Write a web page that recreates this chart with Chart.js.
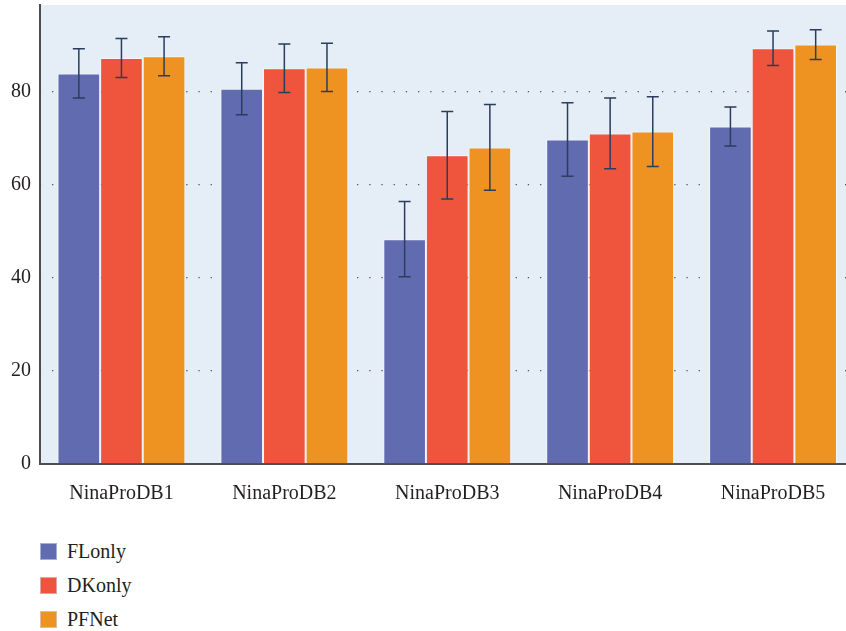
<!DOCTYPE html>
<html>
<head>
<meta charset="utf-8">
<script src="https://cdn.jsdelivr.net/npm/chart.js@4/dist/chart.umd.min.js"></script>
<style>
  html, body { margin: 0; padding: 0; background: #ffffff; overflow: hidden; width: 846px; height: 631px; }
  #wrap { position: absolute; left: 0; top: 0; width: 860px; height: 520px; }
  #legend { position: absolute; left: 40px; top: 534px; font-family: "Liberation Serif", "DejaVu Serif", serif; font-size: 20px; color: #231f20; }
  .item { display: flex; align-items: center; height: 34px; }
  .box { width: 17px; height: 17px; box-shadow: 0 0 0 1px rgba(210,220,240,0.6) inset; margin-right: 10px; }
</style>
</head>
<body>
<div id="wrap"><canvas id="c" width="860" height="520"></canvas></div>
<div id="legend"></div>
<script>
const categories = ["NinaProDB1", "NinaProDB2", "NinaProDB3", "NinaProDB4", "NinaProDB5"];
const seriesNames = ["FLonly", "DKonly", "PFNet"];
const flonly = [83.9, 80.6, 48.3, 69.7, 72.5];
const dkonly = [87.2, 85.0, 66.3, 71.0, 89.3];
const pfnet  = [87.6, 85.2, 68.0, 71.4, 90.1];
const flonlyErr = [5.3, 5.6, 8.1, 7.9, 4.2];
const dkonlyErr = [4.2, 5.2, 9.4, 7.6, 3.7];
const pfnetErr  = [4.2, 5.2, 9.2, 7.5, 3.2];
const yTicks = [0, 20, 40, 60, 80];
const colors = ["#616bb0", "#ef553c", "#ee9322"];

const values = [flonly, dkonly, pfnet];
const errors = [flonlyErr, dkonlyErr, pfnetErr];

const bgPlugin = {
  id: "bg",
  beforeDraw(chart) {
    const a = chart.chartArea, ctx = chart.ctx;
    ctx.save();
    ctx.fillStyle = "#e5edf7";
    ctx.fillRect(a.left, a.top, a.right - a.left, a.bottom - a.top);
    ctx.restore();
  }
};

const errPlugin = {
  id: "errbars",
  afterDatasetsDraw(chart) {
    const ctx = chart.ctx, ys = chart.scales.y;
    ctx.save();
    ctx.strokeStyle = "#2b3d5c";
    ctx.lineWidth = 1.5;
    chart.data.datasets.forEach((ds, di) => {
      const meta = chart.getDatasetMeta(di);
      meta.data.forEach((bar, i) => {
        const v = ds.data[i], e = ds.errors[i];
        const yt = ys.getPixelForValue(v + e), yb = ys.getPixelForValue(v - e);
        const x = bar.x, hw = 6;
        ctx.beginPath();
        ctx.moveTo(x, yt); ctx.lineTo(x, yb);
        ctx.moveTo(x - hw, yt); ctx.lineTo(x + hw, yt);
        ctx.moveTo(x - hw, yb); ctx.lineTo(x + hw, yb);
        ctx.stroke();
      });
    });
    ctx.restore();
  }
};

const font = { family: "'Liberation Serif', 'DejaVu Serif', serif", size: 20 };

const chart = new Chart(document.getElementById("c"), {
  type: "bar",
  data: {
    labels: categories,
    datasets: seriesNames.map((n, i) => ({
      label: n,
      data: values[i],
      errors: errors[i],
      backgroundColor: colors[i],
      borderColor: "rgba(255,255,255,0.55)",
      borderWidth: 1,
      barPercentage: 1.0,
      categoryPercentage: 0.785
    }))
  },
  options: {
    responsive: false,
    animation: false,
    devicePixelRatio: 1,
    layout: { padding: { top: 5, right: 5.5, left: 0, bottom: 0 } },
    plugins: { legend: { display: false }, tooltip: { enabled: false } },
    scales: {
      x: {
        afterFit(scale) { scale.paddingLeft = 0; scale.paddingRight = 0; scale.height = 56; },
        grid: { display: false },
        border: { display: true, color: "#4d4d4f", width: 2 },
        ticks: { color: "#231f20", font: font, padding: 10, maxRotation: 0 }
      },
      y: {
        min: 0,
        max: 98.6,
        afterFit(scale) { scale.width = 40; scale.paddingTop = 0; scale.paddingBottom = 0; },
        afterBuildTicks(scale) { scale.ticks = yTicks.map(v => ({ value: v })); },
        grid: { color: "#555", lineWidth: 1.3, drawTicks: false },
        border: { display: true, color: "#4d4d4f", width: 2, dash: [1.3, 10.9], dashOffset: -11 },
        ticks: { color: "#231f20", font: font, padding: 9, includeBounds: false }
      }
    }
  },
  plugins: [bgPlugin, errPlugin]
});

const leg = document.getElementById("legend");
chart.data.datasets.forEach(ds => {
  const it = document.createElement("div");
  it.className = "item";
  const b = document.createElement("div");
  b.className = "box";
  b.style.background = ds.backgroundColor;
  const t = document.createElement("span");
  t.textContent = ds.label;
  it.appendChild(b); it.appendChild(t);
  leg.appendChild(it);
});
</script>
</body>
</html>
